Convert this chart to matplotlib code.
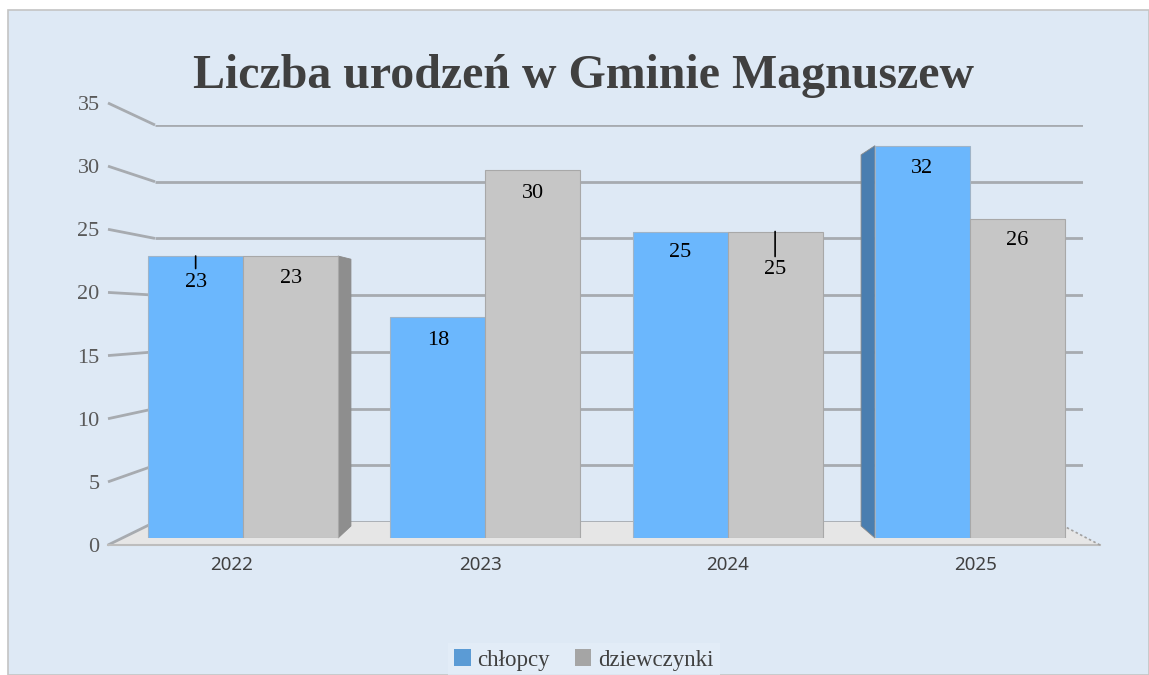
import matplotlib
matplotlib.use("Agg")
import matplotlib.pyplot as plt
from matplotlib.patches import Rectangle, Polygon, Patch
import numpy as np

# ---- data ----
years = ["2022", "2023", "2024", "2025"]
boys = [23, 18, 25, 32]
girls = [23, 30, 25, 26]
series_names = ["chłopcy", "dziewczynki"]
y_ticks = [0, 5, 10, 15, 20, 25, 30, 35]
title = "Liczba urodzeń w Gminie Magnuszew"

# ---- style ----
W, H = 1149, 675
BG = "#DEE9F5"
GRID = "#A7ABB0"
BLUE_FACE = "#6BB7FD"
BLUE_SIDE = "#4A7EB0"
GRAY_FACE = "#C6C6C6"
GRAY_SIDE = "#8E8E8E"
TXT = "#404040"
SERIF = ["Liberation Serif", "DejaVu Serif"]
SANS = ["Noto Sans", "DejaVu Sans"]
FLOOR_BACK_END = 0.971


def rect(l, t, r, b):
    return [l / W, 1 - b / H, (r - l) / W, (b - t) / H]


fig = plt.figure(figsize=(W / 100, H / 100), dpi=100)
fig.patch.set_facecolor("white")
fig.add_artist(Rectangle((8 / W, 0), 1 - 8 / W, 1 - 10 / H, transform=fig.transFigure,
                         facecolor=BG, edgecolor="#C4C4C4", lw=1.2, zorder=0))

# back wall axes (gridlines)
ax_back = fig.add_axes(rect(155, 125, 1083, 522), zorder=1)
ax_back.set_xlim(0, 1)
ax_back.set_ylim(0, 35)
ax_back.axis("off")
ax_back.hlines([t for t in y_ticks if t > 0], 0, 1, color=GRID, lw=2.0)
ax_back.hlines([0], 0, FLOOR_BACK_END, color=GRID, lw=2.0)

# front edge axes (tick labels, floor)
ax_front = fig.add_axes(rect(108, 103, 1100, 545), zorder=2)
ax_front.set_xlim(0, len(years))
ax_front.set_ylim(0, 35)
ax_front.patch.set_visible(False)
for s in ax_front.spines.values():
    s.set_visible(False)
ax_front.set_yticks(y_ticks)
ax_front.set_yticklabels([str(t) for t in y_ticks], fontsize=16, family=SERIF, color="#595959")
ax_front.set_xticks(np.arange(len(years)) + 0.5)
ax_front.set_xticklabels(years, fontsize=13.5, family=SANS, color=TXT)
ax_front.tick_params(axis="y", length=0, pad=6)
ax_front.tick_params(axis="x", length=0, pad=8)


def to_front(pts_disp):
    return ax_front.transData.inverted().transform(pts_disp)


fig.canvas.draw()
# slanted connector lines from the front edge to the back wall
for v in y_ticks:
    p0 = ax_front.transData.transform((0, v))
    p1 = ax_back.transData.transform((0, v))
    d = to_front(np.array([p0, p1]))
    ax_front.plot(d[:, 0], d[:, 1], color=GRID, lw=2.0, clip_on=False, solid_capstyle="butt")

# floor
fl = np.array([ax_front.transData.transform((0, 0)), ax_front.transData.transform((len(years), 0)),
               ax_back.transData.transform((FLOOR_BACK_END, 0)), ax_back.transData.transform((0, 0))])
ax_front.add_patch(Polygon(to_front(fl), closed=True, facecolor="#E6E6E6", edgecolor="none",
                           clip_on=False, zorder=1))
fe = to_front(fl[:2])
ax_front.plot(fe[:, 0], fe[:, 1], color="#BDBDBD", lw=1.5, clip_on=False, zorder=2)
fr = to_front(fl[1:3])
ax_front.plot(fr[:, 0], fr[:, 1], color="#A0A0A0", lw=1.2, ls=(0, (1.5, 1.5)), clip_on=False, zorder=2)

# bars: front plane and back plane axes
ax_bars = fig.add_axes(rect(122, 108.9, 1091, 538), zorder=3)
ax_bb = fig.add_axes(rect(145.6, 120, 1066.4, 526), zorder=0)
for a in (ax_bars, ax_bb):
    a.set_xlim(-0.5, len(years) - 0.5)
    a.set_ylim(0, 35)
    a.axis("off")

bw = 0.392
x = np.arange(len(years))


def side(x_edge, v, color):
    f0 = ax_bars.transData.transform((x_edge, 0))
    f1 = ax_bars.transData.transform((x_edge, v))
    b1 = ax_bb.transData.transform((x_edge, v))
    b0 = ax_bb.transData.transform((x_edge, 0))
    pts = ax_bars.transData.inverted().transform(np.array([f0, f1, b1, b0]))
    ax_bars.add_patch(Polygon(pts, closed=True, facecolor=color, edgecolor="#8A8A8A",
                              lw=0.6, clip_on=False, zorder=1))


def shift(xe):
    return ax_bb.transData.transform((xe, 0))[0] - ax_bars.transData.transform((xe, 0))[0]


for i in range(len(years)):
    if shift(x[i] - bw) < -3:
        side(x[i] - bw, boys[i], BLUE_SIDE)
    if shift(x[i] + bw) > 3:
        side(x[i] + bw, girls[i], GRAY_SIDE)

ax_bars.bar(x - bw / 2, boys, bw, color=BLUE_FACE, edgecolor="#9FB4C8", lw=0.8, zorder=2)
ax_bars.bar(x + bw / 2, girls, bw, color=GRAY_FACE, edgecolor="#A8A8A8", lw=0.8, zorder=2)

# data labels (offsets in points; a few have leader lines as in the original)
label_offset = {("b", 0): 19, ("g", 3): 15, ("g", 2): 27.5, ("b", 2): 15}
leaders = {("b", 0): 9, ("g", 2): 18}
for key, xs, vals in (("b", x - bw / 2, boys), ("g", x + bw / 2, girls)):
    for i, (xx, v) in enumerate(zip(xs, vals)):
        off = label_offset.get((key, i), 16.5)
        ax_bars.annotate(str(v), (xx, v), xytext=(0, -off), textcoords="offset points",
                         ha="center", va="center", fontsize=16, family=SERIF, color="black",
                         zorder=5)
        if (key, i) in leaders:
            ax_bars.annotate("", (xx, v), xytext=(0, -leaders[(key, i)]), textcoords="offset points",
                             arrowprops=dict(arrowstyle="-", color="black", lw=1.2,
                                             shrinkA=0, shrinkB=0), zorder=5)

# title
fig.text(583 / W, 1 - 76 / H, title, ha="center", va="center", fontsize=34.5,
         fontweight="bold", family=SERIF, color=TXT)

# legend
handles = [Patch(facecolor="#5B9BD5", edgecolor="none"), Patch(facecolor="#A5A5A5", edgecolor="none")]
leg = fig.legend(handles, series_names, loc="center", bbox_to_anchor=(584 / W, 1 - 660 / H),
                 ncol=2, frameon=True, facecolor="#E4EDF8", edgecolor="none", fancybox=False,
                 handlelength=0.7, handleheight=0.7, handletextpad=0.3, columnspacing=1.1,
                 prop={"family": SERIF, "size": 16.5}, borderpad=0.3)
for t in leg.get_texts():
    t.set_color(TXT)

fig.savefig("out.png", dpi=100, facecolor=fig.get_facecolor())
